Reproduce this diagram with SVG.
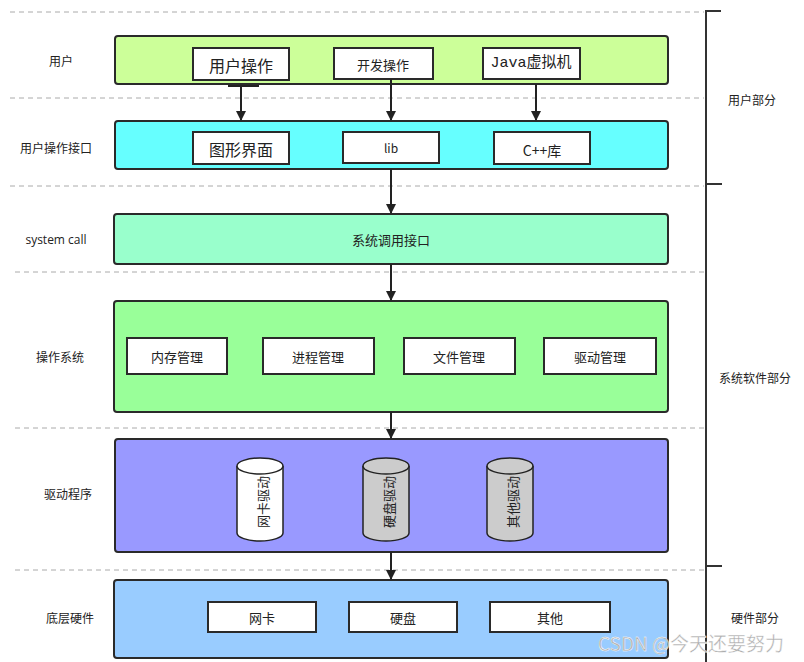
<svg xmlns="http://www.w3.org/2000/svg" width="804" height="662" viewBox="0 0 804 662">
<defs>
<style>
text{font-family:"Noto Sans CJK SC","Liberation Sans",sans-serif;fill:#222;text-anchor:middle;dominant-baseline:central}
.layer{stroke:#2a2a2a;stroke-width:2}
.box{fill:#fff;stroke:#2a2a2a;stroke-width:2}
.dash{stroke:#aaa;stroke-width:1;stroke-dasharray:5,4;fill:none}
.lbl{font-size:12px}
.in{font-size:13px}
.conn{stroke:#222;stroke-width:2;fill:none;marker-end:url(#ah)}
.cyl{stroke:#222;stroke-width:1.5}
</style>
<marker id="ah" markerWidth="10" markerHeight="12" refX="9" refY="5" orient="auto" markerUnits="userSpaceOnUse" viewBox="0 0 10 10">
<path d="M0,0 L10,5 L0,10 z" fill="#222"/>
</marker>
</defs>
<rect width="804" height="662" fill="#fff"/>

<g id="dividers">
<line class="dash" x1="10" y1="12" x2="704" y2="12"/>
<line class="dash" x1="10" y1="98" x2="704" y2="98"/>
<line class="dash" x1="10" y1="186" x2="704" y2="186"/>
<line class="dash" x1="15" y1="272" x2="704" y2="272"/>
<line class="dash" x1="15" y1="428" x2="704" y2="428"/>
<line class="dash" x1="15" y1="570" x2="704" y2="570"/>
</g>

<g id="bracket" stroke="#333" stroke-width="2">
<line x1="706" y1="10" x2="706" y2="662"/>
<line x1="706" y1="11" x2="721" y2="11"/>
<line x1="706" y1="184" x2="722" y2="184"/>
<line x1="706" y1="566" x2="722" y2="566"/>
</g>
<g id="side-labels">
<text class="lbl" x="752" y="99">用户部分</text>
<text class="lbl" x="755" y="377">系统软件部分</text>
<text class="lbl" x="755" y="617">硬件部分</text>
</g>

<g id="row-labels">
<text class="lbl" x="61" y="60">用户</text>
<text class="lbl" x="56" y="147">用户操作接口</text>
<text class="lbl" x="56" y="239" style="font-family:'Open Sans','Liberation Sans',sans-serif">system call</text>
<text class="lbl" x="60" y="356">操作系统</text>
<text class="lbl" x="68" y="493">驱动程序</text>
<text class="lbl" x="70" y="617">底层硬件</text>
</g>

<g id="user">
<rect class="layer" x="115" y="36" width="553" height="48" rx="3" fill="#ccff99"/>
<g id="user-op"><rect class="box" x="193" y="48" width="96" height="32"/><text x="241" y="65" style="font-size:16px">用户操作</text></g>
<g id="dev-op"><rect class="box" x="334" y="48" width="99" height="31"/><text x="383" y="64" style="font-size:13px">开发操作</text></g>
<g id="jvm"><rect class="box" x="483" y="48" width="97" height="31"/><text x="531" y="63" style="font-size:15px;font-family:'Liberation Mono','Noto Sans CJK SC',monospace">Java虚拟机</text></g>
</g>

<g id="api">
<rect class="layer" x="115" y="121" width="553" height="48" rx="3" fill="#66ffff"/>
<g id="gui"><rect class="box" x="193" y="132" width="96" height="32"/><text x="241" y="149" style="font-size:16px">图形界面</text></g>
<g id="lib"><rect class="box" x="343" y="132" width="96" height="31"/><text x="391" y="147" style="font-size:12px">lib</text></g>
<g id="cpp"><rect class="box" x="494" y="132" width="96" height="32"/><text x="542" y="150" style="font-size:14px">C++库</text></g>
</g>

<g id="syscall">
<rect class="layer" x="114" y="214" width="554" height="50" rx="3" fill="#99ffcc"/>
<text class="in" x="391" y="239">系统调用接口</text>
</g>

<g id="os">
<rect class="layer" x="114" y="301" width="554" height="111" rx="3" fill="#99ff99"/>
<g id="mem"><rect class="box" x="127" y="338" width="100" height="36"/><text class="in" x="177" y="356">内存管理</text></g>
<g id="proc"><rect class="box" x="263" y="338" width="111" height="36"/><text class="in" x="318" y="356">进程管理</text></g>
<g id="file"><rect class="box" x="404" y="338" width="111" height="36"/><text class="in" x="459" y="356">文件管理</text></g>
<g id="drvmgr"><rect class="box" x="544" y="338" width="112" height="36"/><text class="in" x="600" y="356">驱动管理</text></g>
</g>

<g id="drivers">
<rect class="layer" x="115" y="439" width="553" height="113" rx="3" fill="#9999ff"/>
<g id="nic-drv">
<path class="cyl" d="M237,466 L237,533 A23,8 0 0 0 283,533 L283,466" fill="#fff"/>
<ellipse class="cyl" cx="260" cy="466" rx="23" ry="8" fill="#fff"/>
<text class="in" transform="translate(262,502) rotate(-90)">网卡驱动</text>
</g>
<g id="disk-drv">
<path class="cyl" d="M363,466 L363,533 A23,8 0 0 0 409,533 L409,466" fill="#ccc"/>
<ellipse class="cyl" cx="386" cy="466" rx="23" ry="8" fill="#ccc"/>
<text class="in" transform="translate(388,502) rotate(-90)">硬盘驱动</text>
</g>
<g id="other-drv">
<path class="cyl" d="M487,466 L487,533 A23,8 0 0 0 533,533 L533,466" fill="#ccc"/>
<ellipse class="cyl" cx="510" cy="466" rx="23" ry="8" fill="#ccc"/>
<text class="in" transform="translate(512,502) rotate(-90)">其他驱动</text>
</g>
</g>

<g id="hardware">
<rect class="layer" x="114" y="580" width="554" height="78" rx="3" fill="#99ccff"/>
<g id="nic"><rect class="box" x="208" y="602" width="108" height="30"/><text class="in" x="262" y="617">网卡</text></g>
<g id="disk"><rect class="box" x="349" y="602" width="108" height="30"/><text class="in" x="403" y="617">硬盘</text></g>
<g id="other"><rect class="box" x="490" y="602" width="120" height="30"/><text class="in" x="550" y="617">其他</text></g>
</g>

<g id="connectors">
<line x1="228" y1="86" x2="259" y2="86" stroke="#222" stroke-width="2"/>
<line class="conn" x1="241" y1="86" x2="241" y2="120"/>
<line class="conn" x1="391" y1="79" x2="391" y2="120"/>
<line class="conn" x1="536" y1="84" x2="536" y2="120"/>
<line class="conn" x1="391" y1="169" x2="391" y2="213"/>
<line class="conn" x1="391" y1="264" x2="391" y2="300"/>
<line class="conn" x1="391" y1="412" x2="391" y2="438"/>
<line class="conn" x1="391" y1="552" x2="391" y2="579"/>
</g>

<text x="691" y="642" style="font-size:19px;fill:#adadad;stroke:#fff;stroke-width:0.4">CSDN @今天还要努力</text>
</svg>
